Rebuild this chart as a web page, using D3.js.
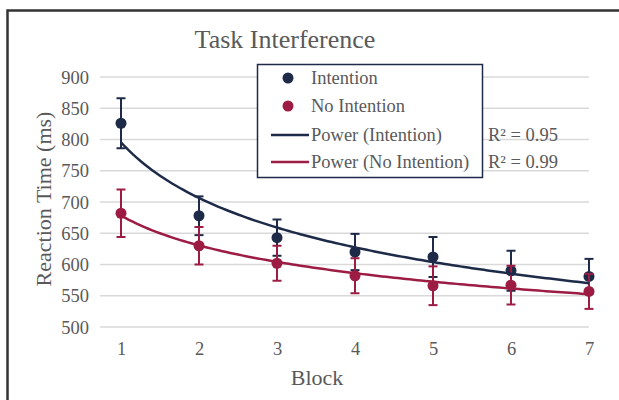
<!DOCTYPE html>
<html>
<head>
<meta charset="utf-8">
<script src="https://cdn.jsdelivr.net/npm/d3@7"></script>
<style>
  html, body { margin: 0; padding: 0; background: #fff; }
  svg { display: block; }
  text { font-family: "Liberation Serif", "Times New Roman", serif; }
</style>
</head>
<body>
<svg id="chart" width="619" height="400"></svg>
<script>
// ---- data ----
const blocks = [1, 2, 3, 4, 5, 6, 7];
const intentionMeans = [826, 678, 643, 620, 612, 590, 581];
const intentionErr   = [40, 31, 29, 29, 32, 32, 28];
const noIntentionMeans = [682, 630, 602, 582, 566, 567, 557];
const noIntentionErr   = [38, 30, 28, 28, 31, 31, 28];
const yTicks = [500, 550, 600, 650, 700, 750, 800, 850, 900];
const r2Labels = ["R² = 0.95", "R² = 0.99"];
const legendLabels = ["Intention", "No Intention", "Power (Intention)", "Power (No Intention)"];
const titleText = "Task Interference";
const xTitle = "Block";
const yTitle = "Reaction Time (ms)";

const NAVY = "#1d2b49";
const RED = "#9c1c43";
const GRID = "#d9d9d9";
const TXT = "#595959";

const svg = d3.select("#chart");

// outer frame (extends past right/bottom edges)
svg.append("rect").attr("x", 7.5).attr("y", 10.5).attr("width", 640).attr("height", 420)
  .attr("fill", "#fff").attr("stroke", "#333").attr("stroke-width", 2.5);

const x = d3.scaleLinear().domain([1, 7]).range([121, 589]);
const y = d3.scaleLinear().domain([500, 900]).range([327, 77]);
const plotLeft = 100, plotRight = 589;

// gridlines
svg.append("g").selectAll("line").data(yTicks).join("line")
  .attr("x1", plotLeft).attr("x2", plotRight)
  .attr("y1", d => y(d)).attr("y2", d => y(d))
  .attr("stroke", GRID).attr("stroke-width", 1.5);

// y axis labels
const yAxis = d3.axisLeft(y).tickValues(yTicks).tickSize(0).tickPadding(0);
const gy = svg.append("g").attr("transform", `translate(${plotLeft - 11},0)`).call(yAxis);
gy.select(".domain").remove();
gy.selectAll("text").attr("font-size", 18.5).attr("fill", TXT)
  .style("font-family", "'Liberation Serif', serif").attr("dy", "0.33em");

// x axis labels
const xAxis = d3.axisBottom(x).tickValues(blocks).tickSize(0).tickPadding(0).tickFormat(d3.format("d"));
const gx = svg.append("g").attr("transform", `translate(0,342)`).call(xAxis);
gx.select(".domain").remove();
gx.selectAll("text").attr("font-size", 18.5).attr("fill", TXT)
  .style("font-family", "'Liberation Serif', serif");

// titles
svg.append("text").attr("x", 285).attr("y", 48).attr("text-anchor", "middle")
  .attr("font-size", 26).attr("fill", TXT).text(titleText);
svg.append("text").attr("x", 317).attr("y", 385).attr("text-anchor", "middle")
  .attr("font-size", 22).attr("fill", TXT).text(xTitle);
svg.append("text").attr("transform", "translate(51,199) rotate(-90)").attr("text-anchor", "middle")
  .attr("font-size", 22).attr("fill", TXT).text(yTitle);

// power fit (log-log least squares, as a power trendline)
function powerFit(xs, ys) {
  const lx = xs.map(Math.log), ly = ys.map(Math.log);
  const mx = d3.mean(lx), my = d3.mean(ly);
  const b = d3.sum(lx, (v, i) => (v - mx) * (ly[i] - my)) / d3.sum(lx, v => (v - mx) * (v - mx));
  const a = Math.exp(my - b * mx);
  return t => a * Math.pow(t, b);
}

const series = [
  { means: intentionMeans, err: intentionErr, color: NAVY },
  { means: noIntentionMeans, err: noIntentionErr, color: RED }
];

series.forEach(s => {
  const g = svg.append("g");
  // error bars
  const eb = g.append("g").attr("stroke", s.color).attr("stroke-width", 2);
  blocks.forEach((b, i) => {
    const cx = x(b), top = y(s.means[i] + s.err[i]), bot = y(s.means[i] - s.err[i]);
    eb.append("line").attr("x1", cx).attr("x2", cx).attr("y1", top).attr("y2", bot);
    eb.append("line").attr("x1", cx - 4.5).attr("x2", cx + 4.5).attr("y1", top).attr("y2", top);
    eb.append("line").attr("x1", cx - 4.5).attr("x2", cx + 4.5).attr("y1", bot).attr("y2", bot);
  });
  // markers
  g.selectAll("circle").data(blocks).join("circle")
    .attr("cx", d => x(d)).attr("cy", (d, i) => y(s.means[i])).attr("r", 5.5)
    .attr("fill", s.color);
});

series.forEach(s => {
  const f = powerFit(blocks, s.means);
  const ts = d3.range(0, 121).map(k => 1 + k * 0.05);
  svg.append("path")
    .attr("d", d3.line().x(t => x(t)).y(t => y(f(t))).curve(d3.curveLinear)(ts))
    .attr("fill", "none").attr("stroke", s.color).attr("stroke-width", 2.5);
});

// legend
const lg = svg.append("g");
lg.append("rect").attr("x", 257.5).attr("y", 64.5).attr("width", 225).attr("height", 113)
  .attr("fill", "#fff").attr("stroke", NAVY).attr("stroke-width", 1.5);
const legY = [78, 106, 135, 162];
const legColors = [NAVY, RED, NAVY, RED];
legendLabels.forEach((lab, i) => {
  if (i < 2) {
    lg.append("circle").attr("cx", 288).attr("cy", legY[i]).attr("r", 5.5).attr("fill", legColors[i]);
  } else {
    lg.append("line").attr("x1", 271).attr("x2", 309).attr("y1", legY[i]).attr("y2", legY[i])
      .attr("stroke", legColors[i]).attr("stroke-width", 2.5);
  }
  lg.append("text").attr("x", 311).attr("y", legY[i]).attr("dy", "0.33em")
    .attr("font-size", 18.5).attr("fill", TXT).text(lab);
});
r2Labels.forEach((lab, i) => {
  svg.append("text").attr("x", 488).attr("y", legY[i + 2]).attr("dy", "0.33em")
    .attr("font-size", 18.5).attr("fill", TXT).text(lab);
});
</script>
</body>
</html>
